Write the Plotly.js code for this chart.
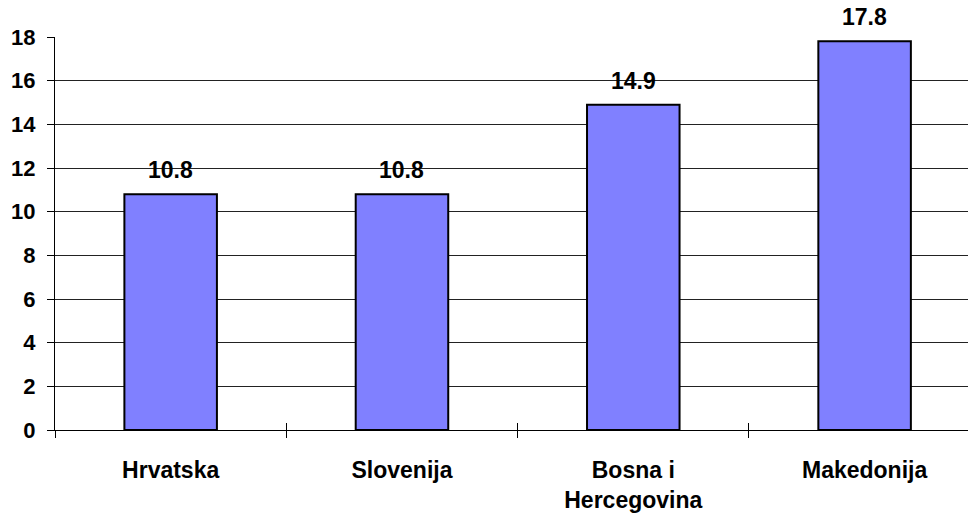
<!DOCTYPE html>
<html>
<head>
<meta charset="utf-8">
<script src="https://cdn.plot.ly/plotly-3.0.1.min.js"></script>
<style>html,body{margin:0;padding:0;background:#fff;}#chart{width:968px;height:515px;}</style>
</head>
<body>
<div id="chart"></div>
<script>
const categories = ["Hrvatska", "Slovenija", "Bosna i<br>Hercegovina", "Makedonija"];
const values = [10.8, 10.8, 14.9, 17.8];
const valueLabels = ["10.8", "10.8", "14.9", "17.8"];
const yTicks = [0, 2, 4, 6, 8, 10, 12, 14, 16, 18];

const fam = "Liberation Sans, Arial, sans-serif";
const font = {family: fam, size: 23, color: "#000"};

const traces = [
  {
    type: "bar", x: categories, y: values, width: 0.4,
    marker: {color: "#8080FF", line: {color: "#000", width: 2}},
    hoverinfo: "skip"
  },
  {
    type: "scatter", mode: "none", x: categories, y: values, xaxis: "x2",
    hoverinfo: "skip", showlegend: false
  }
];

const annotations = categories.map((c, i) => ({
  x: c, y: values[i], xref: "x", yref: "y", text: "<b>" + valueLabels[i] + "</b>",
  showarrow: false, yanchor: "bottom", yshift: 9, font: font
}));

const xr = [-0.5, 3.447];
const layout = {
  width: 968, height: 515,
  margin: {l: 55, r: 0, t: 37, b: 85},
  paper_bgcolor: "#fff", plot_bgcolor: "#fff",
  showlegend: false, bargap: 0.6,
  font: font,
  xaxis: {
    type: "category", categoryarray: categories, range: xr,
    showline: true, linecolor: "#000", linewidth: 1,
    ticks: "outside", ticklen: 7, tickcolor: "#000", tickwidth: 1,
    tickson: "boundaries", showgrid: false,
    tickfont: {family: fam, size: 23, color: "#000"},
    ticklabelstandoff: 19,
    fixedrange: true
  },
  xaxis2: {
    type: "category", categoryarray: categories, range: xr,
    overlaying: "x", anchor: "y", side: "bottom",
    ticks: "inside", ticklen: 7, tickcolor: "#000", tickwidth: 1,
    tickson: "boundaries", showgrid: false, showticklabels: false, showline: false,
    fixedrange: true
  },
  yaxis: {
    range: [0, 18], tickvals: yTicks, ticktext: yTicks.map(v => "<b>" + v + "</b>"),
    showline: true, linecolor: "#000", linewidth: 1,
    ticks: "outside", ticklen: 7, tickcolor: "#000",
    showgrid: true, gridcolor: "#222", gridwidth: 1, zeroline: false,
    tickfont: {family: fam, size: 22, color: "#000"},
    ticklabelstandoff: 7,
    fixedrange: true
  },
  annotations: annotations
};

layout.xaxis.ticktext = categories.map(c => "<b>" + c.replace("<br>", "</b><br><b>") + "</b>");
layout.xaxis.tickvals = categories;

Plotly.newPlot("chart", traces, layout, {displayModeBar: false, staticPlot: true});
</script>
</body>
</html>
